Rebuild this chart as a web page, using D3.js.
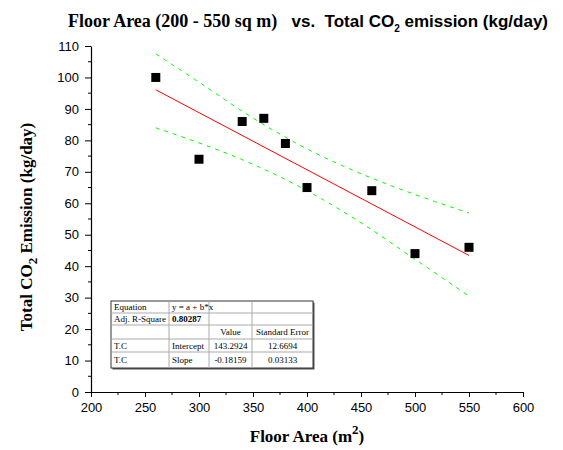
<!DOCTYPE html>
<html><head><meta charset="utf-8">
<script src="https://cdn.jsdelivr.net/npm/d3@7"></script>
<style>body{margin:0;background:#fff}</style>
</head><body>
<svg id="c" width="563" height="450"></svg>
<script>
const areas = [260, 300, 340, 360, 380, 400, 460, 500, 550];
const emissions = [100, 74, 86, 87, 79, 65, 64, 44, 46];
const fitIntercept = 143.2924;
const fitSlope = -0.18159;
const fitRange = [260, 550];
const bandX = [260, 300, 350, 400, 450, 500, 550];
const bandUpper = [107.5, 98.5, 87.1, 77.3, 69.4, 62.8, 56.9];
const bandLower = [84.0, 79.2, 72.4, 64.0, 53.8, 42.2, 30.5];
const xTicks = [200, 250, 300, 350, 400, 450, 500, 550, 600];
const yTicks = [0, 10, 20, 30, 40, 50, 60, 70, 80, 90, 100, 110];
const tableRows = [
  ["Equation", "y = a + b*x", "", ""],
  ["Adj. R-Square", "0.80287", "", ""],
  ["", "", "Value", "Standard Error"],
  ["T.C", "Intercept", "143.2924", "12.6694"],
  ["T.C", "Slope", "-0.18159", "0.03133"]
];

const svg = d3.select("#c");
const x = d3.scaleLinear().domain([200, 600]).range([91, 523]);
const y = d3.scaleLinear().domain([0, 110]).range([392, 46]);

// axes
const xAxis = d3.axisBottom(x).tickValues(xTicks).tickSize(5).tickSizeOuter(0).tickPadding(6);
const gx = svg.append("g").attr("transform", "translate(0,392)").call(xAxis);
gx.selectAll("text").attr("font-family", "Arial, Liberation Sans, sans-serif").attr("font-size", 13).attr("fill", "#000");
const xMinor = d3.range(225, 600, 50);
gx.selectAll(".minor").data(xMinor).enter().append("line").attr("class", "minor")
  .attr("x1", d => x(d)).attr("x2", d => x(d)).attr("y1", 0).attr("y2", 3).attr("stroke", "#000");

const yAxis = d3.axisLeft(y).tickValues(yTicks).tickSize(6).tickSizeOuter(0).tickPadding(6);
const gy = svg.append("g").attr("transform", "translate(91,0)").call(yAxis);
gy.selectAll("text").attr("font-family", "Arial, Liberation Sans, sans-serif").attr("font-size", 13).attr("fill", "#000");
const yMinor = d3.range(5, 110, 10);
gy.selectAll(".minor").data(yMinor).enter().append("line").attr("class", "minor")
  .attr("x1", 0).attr("x2", -3).attr("y1", d => y(d)).attr("y2", d => y(d)).attr("stroke", "#000");
svg.selectAll(".domain").attr("stroke", "#000").attr("stroke-width", 1.2);

// bands
const line = d3.line().x(d => x(d[0])).y(d => y(d[1]));
[bandUpper, bandLower].forEach(b => {
  svg.append("path").datum(bandX.map((v, i) => [v, b[i]])).attr("d", line.curve(d3.curveMonotoneX))
    .attr("fill", "none").attr("stroke", "#00ff00").attr("stroke-width", 1).attr("stroke-dasharray", "4,5");
});
// fit
svg.append("path").datum(fitRange.map(v => [v, fitIntercept + fitSlope * v])).attr("d", d3.line().x(d => x(d[0])).y(d => y(d[1])))
  .attr("fill", "none").attr("stroke", "#ff0000").attr("stroke-width", 1);

// points
svg.selectAll(".pt").data(areas).enter().append("rect").attr("class", "pt")
  .attr("x", d => x(d) - 4.5).attr("y", (d, i) => y(emissions[i]) - 4.5)
  .attr("width", 9).attr("height", 9).attr("fill", "#000");

// table
const colX = [111, 169, 209, 252, 313];
const rowY = [301, 313, 325, 339, 352, 368];
const tg = svg.append("g");
tg.append("rect").attr("x", colX[0] + 1.5).attr("y", rowY[0] + 1.5).attr("width", colX[4] - colX[0]).attr("height", rowY[5] - rowY[0]).attr("fill", "#555");
tg.append("rect").attr("x", colX[0]).attr("y", rowY[0]).attr("width", colX[4] - colX[0]).attr("height", rowY[5] - rowY[0]).attr("fill", "#fff").attr("stroke", "#333").attr("stroke-width", 1);
rowY.slice(1, 5).forEach(r => tg.append("line").attr("x1", colX[0]).attr("x2", colX[4]).attr("y1", r).attr("y2", r).attr("stroke", "#aaa"));
colX.slice(1, 4).forEach(c => tg.append("line").attr("x1", c).attr("x2", c).attr("y1", rowY[0]).attr("y2", rowY[5]).attr("stroke", "#aaa"));
tableRows.forEach((row, ri) => {
  row.forEach((t, ci) => {
    if (!t) return;
    const numeric = ri >= 2 && ci >= 2;
    const cx = numeric ? (colX[ci] + colX[ci + 1]) / 2 : colX[ci] + 3;
    tg.append("text").attr("x", cx).attr("y", (rowY[ri] + rowY[ri + 1]) / 2 + 3)
      .attr("text-anchor", numeric ? "middle" : "start")
      .attr("font-family", "Liberation Serif, Times New Roman, serif").attr("font-size", 9)
      .attr("font-weight", (ri === 1 && ci === 1) ? "bold" : "normal")
      .text(t);
  });
});

// title
const title = svg.append("text").attr("x", 68).attr("y", 27).attr("font-weight", "bold").attr("fill", "#000");
title.append("tspan").attr("font-family", "Liberation Serif, Times New Roman, serif").attr("font-size", 18).text("Floor Area (200 - 550 sq m)");
title.append("tspan").attr("font-family", "Liberation Sans, Arial, sans-serif").attr("font-size", 17).text("\u00a0\u00a0\u00a0vs.\u00a0\u00a0Total CO");
title.append("tspan").attr("font-family", "Liberation Sans, Arial, sans-serif").attr("font-size", 10).attr("dy", 5).text("2");
title.append("tspan").attr("font-family", "Liberation Sans, Arial, sans-serif").attr("font-size", 17).attr("dy", -5).text("\u00a0emission (kg/day)");

// x label
const xl = svg.append("text").attr("x", 307).attr("y", 442).attr("text-anchor", "middle")
  .attr("font-family", "Liberation Serif, Times New Roman, serif").attr("font-weight", "bold").attr("font-size", 17);
xl.append("tspan").text("Floor Area (m");
xl.append("tspan").attr("font-size", 13).attr("dy", -8).text("2");
xl.append("tspan").attr("dy", 8).text(")");

// y label
const yl = svg.append("text").attr("transform", "translate(32,227) rotate(-90)").attr("text-anchor", "middle")
  .attr("font-family", "Liberation Serif, Times New Roman, serif").attr("font-weight", "bold").attr("font-size", 17);
yl.append("tspan").text("Total CO");
yl.append("tspan").attr("font-size", 13).attr("dy", 5).text("2");
yl.append("tspan").attr("dy", -5).text(" Emission (kg/day)");
</script>
</body></html>
